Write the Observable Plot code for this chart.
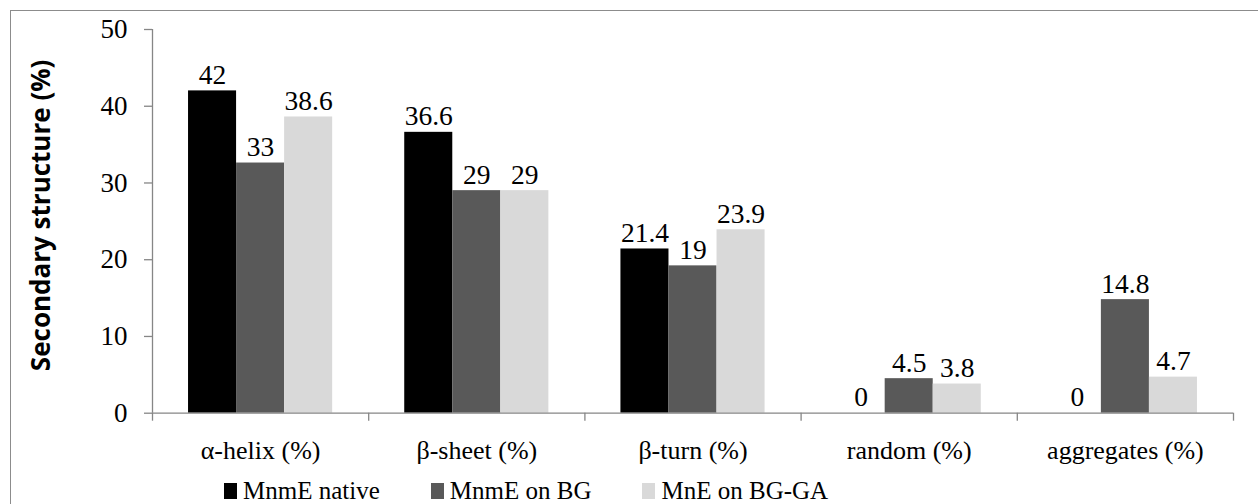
<!DOCTYPE html>
<html><head><meta charset="utf-8">
<script src="https://cdn.jsdelivr.net/npm/d3@7"></script>
<script src="https://cdn.jsdelivr.net/npm/@observablehq/plot@0.6"></script>
<style>
html,body{margin:0;padding:0;background:#fff;overflow:hidden;width:1258px;height:504px;}
#wrap{position:relative;width:1258px;height:504px;overflow:hidden;}
#frame{position:absolute;left:10px;top:10px;width:1400px;height:700px;border-left:1.5px solid #8c8c8c;border-top:1.5px solid #8c8c8c;}
#chart{position:absolute;left:0;top:0;}
#legend{position:absolute;top:478px;left:224px;display:flex;align-items:center;font-family:"Liberation Serif","Times New Roman",serif;font-size:25px;line-height:1;color:#000;white-space:nowrap;}
#legend .item{display:flex;align-items:center;margin-right:51px;}
#legend .sw{width:13px;height:16px;margin-right:6px;}
</style>
</head><body>
<div id="wrap"><div id="frame"></div><div id="chart"></div><div id="legend"></div></div>
<script>
const categories = ["α-helix (%)", "β-sheet (%)", "β-turn (%)", "random (%)", "aggregates (%)"];
const series = ["MnmE native", "MnmE on BG", "MnE on BG-GA"];
const colors = ["#000000", "#595959", "#d9d9d9"];
const mnmeNative = [42, 36.6, 21.4, 0, 0];
const mnmeOnBG = [32.6, 29, 19.2, 4.5, 14.8];
const mneOnBGGA = [38.6, 29, 23.9, 3.8, 4.7];
const mnmeNativeLabels = ["42", "36.6", "21.4", "0", "0"];
const mnmeOnBGLabels = ["33", "29", "19", "4.5", "14.8"];
const mneOnBGGALabels = ["38.6", "29", "23.9", "3.8", "4.7"];
const yTicks = [0, 10, 20, 30, 40, 50];
const yTitle = "Secondary structure (%)";

const seriesValues = [mnmeNative, mnmeOnBG, mneOnBGGA];
const seriesLabels = [mnmeNativeLabels, mnmeOnBGLabels, mneOnBGGALabels];
const rows = [];
categories.forEach((c, i) => series.forEach((s, j) => rows.push({cat: c, ci: i, s, sj: j, value: seriesValues[j][i], label: seriesLabels[j][i]})));

const groupStart = 1/6, barW = 2/9;
const gray = "#868686";
const serif = "'Liberation Serif', 'Times New Roman', serif";

const chart = Plot.plot({
  width: 1258, height: 470,
  marginLeft: 152, marginRight: 25, marginTop: 29, marginBottom: 57.3,
  style: {fontFamily: serif, fontSize: "26px", background: "transparent", overflow: "visible", color: "#000"},
  x: {domain: [0, categories.length]},
  y: {domain: [0, 50]},
  color: {domain: series, range: colors},
  marks: [
    Plot.rectY(rows, {x1: d => d.ci + groupStart + d.sj * barW, x2: d => d.ci + groupStart + (d.sj + 1) * barW, y: "value", fill: "s"}),
    Plot.ruleX([0], {y1: 0, y2: 50, stroke: gray, strokeWidth: 1.3}),
    Plot.ruleY([0], {x1: 0, x2: categories.length, stroke: gray, strokeWidth: 1.3}),
    Plot.axisY({ticks: yTicks, tickSize: 8, tickPadding: 17, stroke: gray, strokeWidth: 1.3, label: null, fontSize: 27, fontFamily: serif}),
    Plot.axisX({ticks: d3.range(categories.length + 1), tickSize: 8, tickFormat: () => "", stroke: gray, strokeWidth: 1.3, label: null}),
    Plot.axisX({ticks: categories.map((_, i) => i + 0.5), tickSize: 0, tickPadding: 27, tickFormat: v => categories[Math.floor(v)], label: null, fontSize: 26, fontFamily: serif}),
    Plot.text(rows, {x: d => d.ci + groupStart + (d.sj + 0.5) * barW, y: "value", text: "label", lineAnchor: "bottom", dy: -7, fontSize: 27.5, fontFamily: serif, fill: "#000"}),
    Plot.text([yTitle], {frameAnchor: "left", textAnchor: "middle", rotate: -90, dx: -111, dy: -6, fontSize: 26, fontWeight: "bold", fontFamily: "'Open Sans', sans-serif", fill: "#000"})
  ]
});
document.getElementById("chart").appendChild(chart);

const legend = document.getElementById("legend");
series.forEach((s, j) => {
  const item = document.createElement("div");
  item.className = "item";
  const sw = document.createElement("span");
  sw.className = "sw";
  sw.style.background = colors[j];
  const t = document.createElement("span");
  t.textContent = s;
  item.appendChild(sw); item.appendChild(t);
  legend.appendChild(item);
});
</script>
</body></html>
